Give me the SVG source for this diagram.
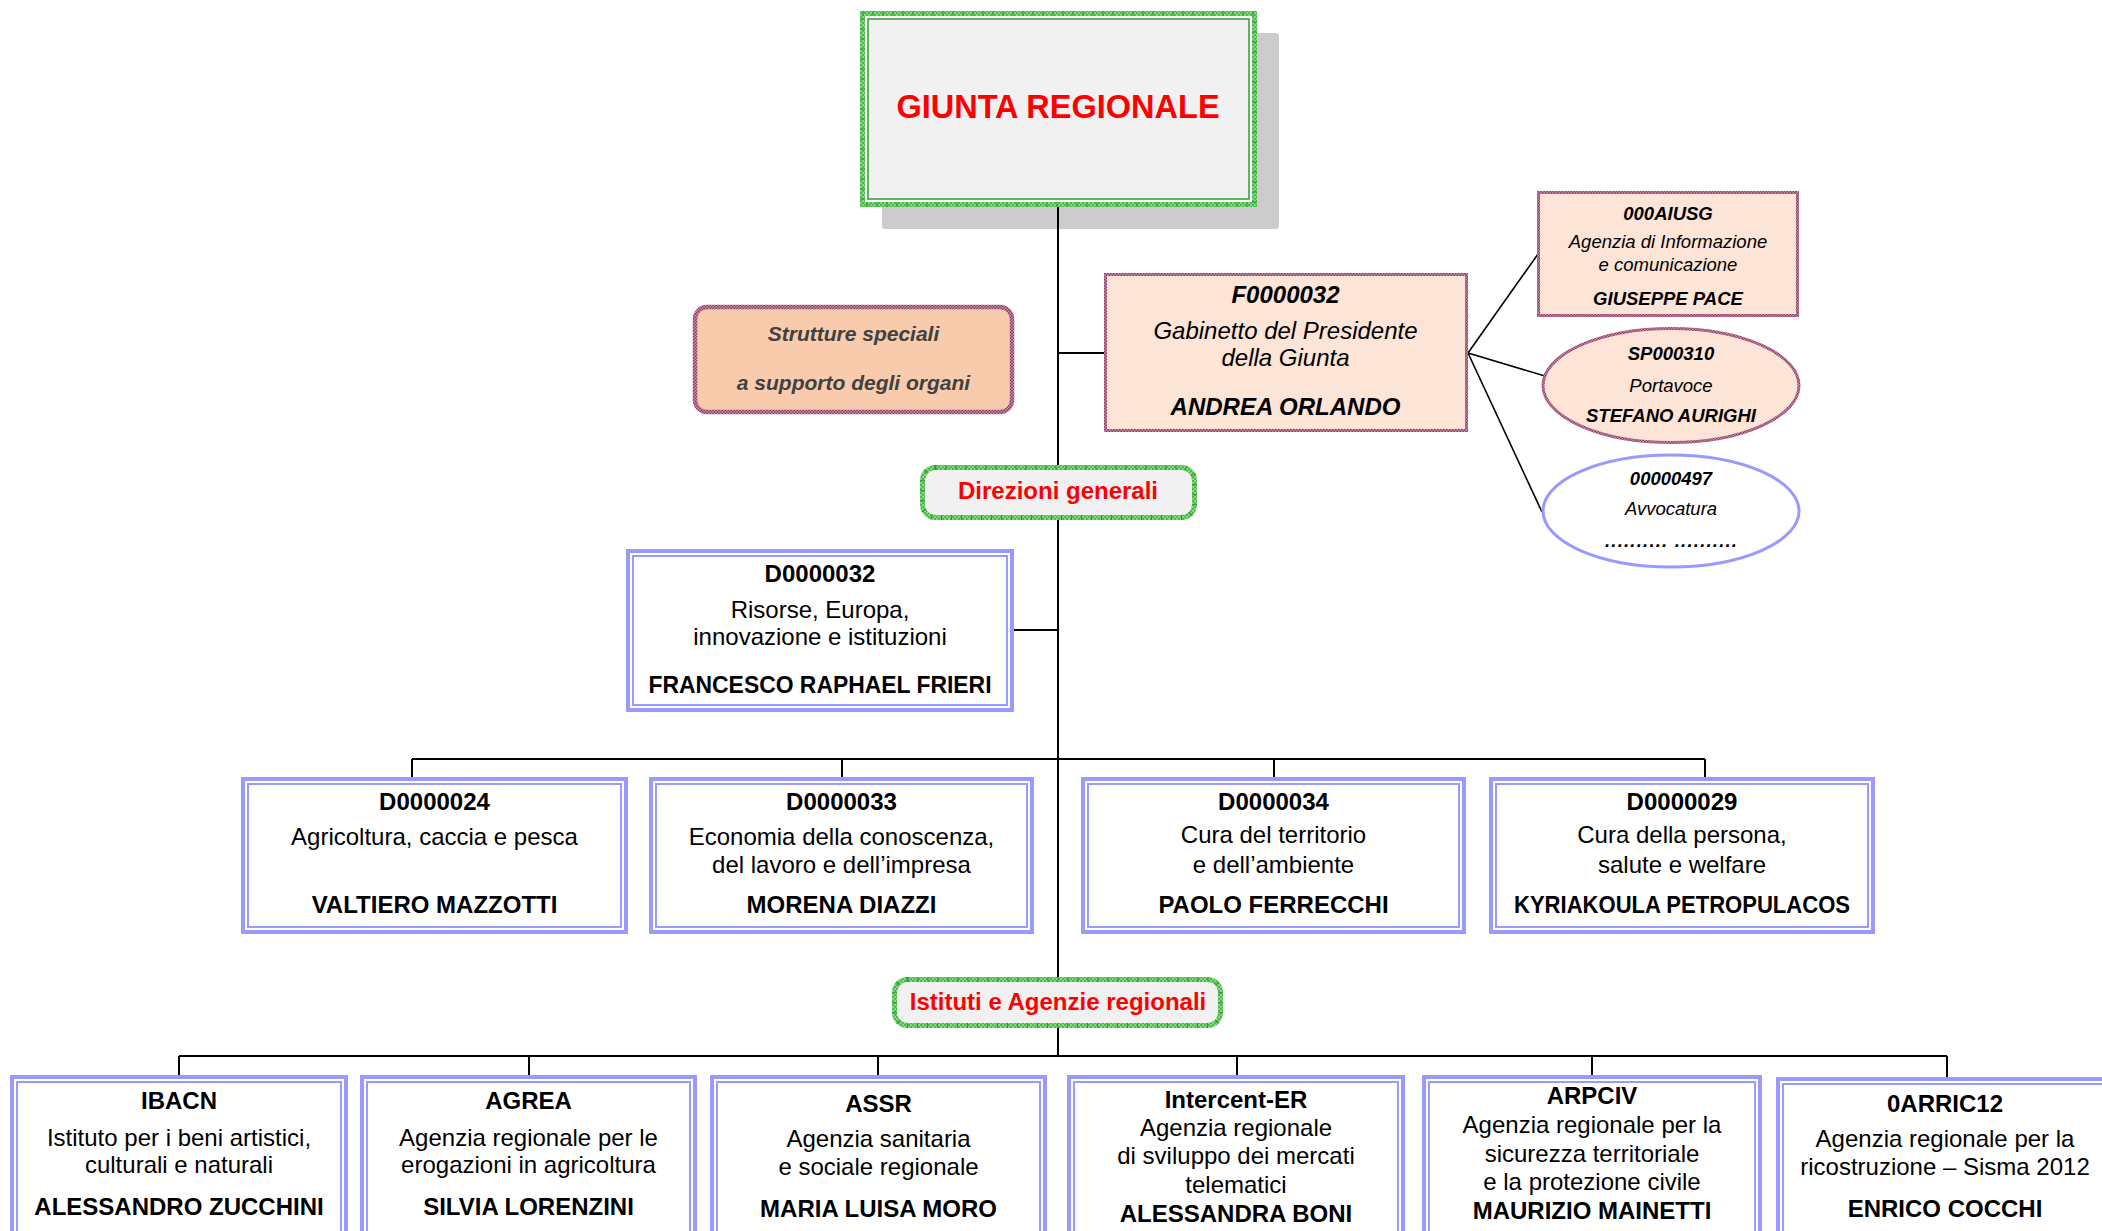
<svg xmlns="http://www.w3.org/2000/svg" width="2102" height="1231" viewBox="0 0 2102 1231">
<defs>
<pattern id="gp" width="4" height="4" patternUnits="userSpaceOnUse">
<rect width="4" height="4" fill="#86D686"/>
<rect width="2" height="2" fill="#4DB84D"/>
<rect x="2" y="2" width="2" height="2" fill="#4DB84D"/>
</pattern>
<pattern id="mp" width="3" height="3" patternUnits="userSpaceOnUse">
<rect width="3" height="3" fill="#C990AC"/>
<rect width="1.5" height="1.5" fill="#8E3A63"/>
<rect x="1.5" y="1.5" width="1.5" height="1.5" fill="#8E3A63"/>
</pattern>
</defs>
<style>
text { font-family: "Liberation Sans", Arial, sans-serif; font-size: 24px; fill: #000; text-anchor: middle; }
.b { font-weight: bold; }
.i { font-style: italic; }
.s { font-size: 18.5px; }
.red { fill: #FF0000; }
.gray { fill: #404040; font-size: 21px; }
.lo { fill: #FFFFFF; stroke: #9999FF; stroke-width: 4; }
.li { fill: none; stroke: #9999FF; stroke-width: 2; }
.gband { fill: none; stroke: url(#gp); }
.gtick { fill: none; stroke: #1E9A1E; stroke-dasharray: 1 9; }
.mband { stroke: url(#mp); }
.conn { fill: none; stroke: #000; stroke-width: 2; }
.fan { fill: none; stroke: #000; stroke-width: 1.6; }
</style>
<rect width="2102" height="1231" fill="#FFFFFF"/>

<g id="giunta-shadow">
<rect x="882" y="33" width="397" height="196" rx="3" fill="#CCCCCC"/>
</g>

<g id="connectors">
<path class="conn" d="M1058 207 V1056"/>
<path class="conn" d="M1058 353 H1104"/>
<path class="conn" d="M1014 630 H1058"/>
<path class="conn" d="M412 759 H1705 M412 759 V777 M842 759 V777 M1274 759 V777 M1705 759 V777"/>
<path class="conn" d="M179 1056 H1947 M179 1056 V1075 M529 1056 V1075 M878 1056 V1075 M1237 1056 V1075 M1592 1056 V1075 M1947 1056 V1077"/>
<path class="fan" d="M1468 353 L1538 254 M1468 353 L1545 376 M1468 353 L1542 512"/>
</g>

<g id="giunta">
<rect x="860" y="11" width="397" height="196" fill="#F1F1F1"/>
<rect class="gband" x="862.5" y="13.5" width="392" height="191" stroke-width="5"/>
<rect class="gtick" x="862.5" y="13.5" width="392" height="191" stroke-width="5"/>
<rect x="866" y="17" width="385" height="184" fill="none" stroke="#FFFFFF" stroke-width="2"/>
<rect x="868" y="19" width="381" height="180" fill="none" stroke="#2EA02E" stroke-width="1.5"/>
<text x="1058" y="118" class="b red" style="font-size:32.5px">GIUNTA REGIONALE</text>
</g>

<g id="strutture">
<rect x="695" y="307" width="317" height="105" rx="12" fill="#F8CBAD" class="mband" stroke-width="4.5"/>
<text x="853.5" y="341" class="b i gray">Strutture speciali</text>
<text x="853.5" y="390" class="b i gray">a supporto degli organi</text>
</g>

<g id="gabinetto">
<rect x="1105.5" y="274.5" width="361" height="156" fill="#FCE4D6" class="mband" stroke-width="3"/>
<text x="1285.5" y="303" class="b i">F0000032</text>
<text x="1285.5" y="339" class="i">Gabinetto del Presidente</text>
<text x="1285.5" y="366" class="i">della Giunta</text>
<text x="1285.5" y="415" class="b i">ANDREA ORLANDO</text>
</g>

<g id="aiusg">
<rect x="1538.5" y="192.5" width="259" height="123" fill="#FCE4D6" class="mband" stroke-width="3"/>
<text x="1668" y="220" class="b i s">000AIUSG</text>
<text x="1668" y="248" class="i s">Agenzia di Informazione</text>
<text x="1668" y="271" class="i s">e comunicazione</text>
<text x="1668" y="305" class="b i s">GIUSEPPE PACE</text>
</g>

<g id="portavoce">
<ellipse cx="1671" cy="385.5" rx="128" ry="57" fill="#FCE4D6" class="mband" stroke-width="3"/>
<text x="1671" y="360" class="b i s">SP000310</text>
<text x="1671" y="392" class="i s">Portavoce</text>
<text x="1671" y="422" class="b i s">STEFANO AURIGHI</text>
</g>

<g id="avvocatura">
<ellipse cx="1671" cy="511" rx="128" ry="56" fill="#FFFFFF" stroke="#9999FF" stroke-width="3"/>
<text x="1671" y="485" class="b i s">00000497</text>
<text x="1671" y="515" class="i s">Avvocatura</text>
<text x="1671" y="547" class="b i s" textLength="132" lengthAdjust="spacing">.......... ..........</text>
</g>

<g id="direzioni-generali">
<rect x="920" y="465" width="277" height="55" rx="15" fill="#F1F1F1"/>
<rect class="gband" x="922.5" y="467.5" width="272" height="50" rx="13" stroke-width="5"/>
<rect class="gtick" x="922.5" y="467.5" width="272" height="50" rx="13" stroke-width="5"/>
<text x="1058" y="499" class="b red">Direzioni generali</text>
</g>

<g id="D0000032">
<rect class="lo" x="628" y="551" width="384" height="159"/>
<rect class="li" x="633" y="556" width="374" height="149"/>
<text x="820" y="582" class="b">D0000032</text>
<text x="820" y="618">Risorse, Europa,</text>
<text x="820" y="645">innovazione e istituzioni</text>
<text x="820" y="693" class="b" textLength="343" lengthAdjust="spacingAndGlyphs">FRANCESCO RAPHAEL FRIERI</text>
</g>

<g id="D0000024">
<rect class="lo" x="243" y="779" width="383" height="153"/>
<rect class="li" x="248" y="784" width="373" height="143"/>
<text x="434.5" y="810" class="b">D0000024</text>
<text x="434.5" y="845">Agricoltura, caccia e pesca</text>
<text x="434.5" y="913" class="b">VALTIERO MAZZOTTI</text>
</g>

<g id="D0000033">
<rect class="lo" x="651" y="779" width="381" height="153"/>
<rect class="li" x="656" y="784" width="371" height="143"/>
<text x="841.5" y="810" class="b">D0000033</text>
<text x="841.5" y="845">Economia della conoscenza,</text>
<text x="841.5" y="873">del lavoro e dell’impresa</text>
<text x="841.5" y="913" class="b">MORENA DIAZZI</text>
</g>

<g id="D0000034">
<rect class="lo" x="1083" y="779" width="381" height="153"/>
<rect class="li" x="1088" y="784" width="371" height="143"/>
<text x="1273.5" y="810" class="b">D0000034</text>
<text x="1273.5" y="843">Cura del territorio</text>
<text x="1273.5" y="873">e dell’ambiente</text>
<text x="1273.5" y="913" class="b">PAOLO FERRECCHI</text>
</g>

<g id="D0000029">
<rect class="lo" x="1491" y="779" width="382" height="153"/>
<rect class="li" x="1496" y="784" width="372" height="143"/>
<text x="1682" y="810" class="b">D0000029</text>
<text x="1682" y="843">Cura della persona,</text>
<text x="1682" y="873">salute e welfare</text>
<text x="1682" y="913" class="b" textLength="336" lengthAdjust="spacingAndGlyphs">KYRIAKOULA PETROPULACOS</text>
</g>

<g id="istituti-agenzie">
<rect x="892" y="977" width="331" height="51" rx="15" fill="#F1F1F1"/>
<rect class="gband" x="894.5" y="979.5" width="326" height="46" rx="13" stroke-width="5"/>
<rect class="gtick" x="894.5" y="979.5" width="326" height="46" rx="13" stroke-width="5"/>
<text x="1058" y="1010" class="b red">Istituti e Agenzie regionali</text>
</g>

<g id="IBACN">
<rect class="lo" x="12" y="1077" width="334" height="180"/>
<rect class="li" x="17" y="1082" width="324" height="170"/>
<text x="179" y="1109" class="b">IBACN</text>
<text x="179" y="1146">Istituto per i beni artistici,</text>
<text x="179" y="1173">culturali e naturali</text>
<text x="179" y="1215" class="b">ALESSANDRO ZUCCHINI</text>
</g>

<g id="AGREA">
<rect class="lo" x="362" y="1077" width="333" height="180"/>
<rect class="li" x="367" y="1082" width="323" height="170"/>
<text x="528.5" y="1109" class="b">AGREA</text>
<text x="528.5" y="1146">Agenzia regionale per le</text>
<text x="528.5" y="1173">erogazioni in agricoltura</text>
<text x="528.5" y="1215" class="b">SILVIA LORENZINI</text>
</g>

<g id="ASSR">
<rect class="lo" x="712" y="1077" width="333" height="180"/>
<rect class="li" x="717" y="1082" width="323" height="170"/>
<text x="878.5" y="1112" class="b">ASSR</text>
<text x="878.5" y="1147">Agenzia sanitaria</text>
<text x="878.5" y="1175">e sociale regionale</text>
<text x="878.5" y="1217" class="b">MARIA LUISA MORO</text>
</g>

<g id="Intercent-ER">
<rect class="lo" x="1069" y="1077" width="334" height="180"/>
<rect class="li" x="1074" y="1082" width="324" height="170"/>
<text x="1236" y="1108" class="b">Intercent-ER</text>
<text x="1236" y="1136">Agenzia regionale</text>
<text x="1236" y="1164">di sviluppo dei mercati</text>
<text x="1236" y="1193">telematici</text>
<text x="1236" y="1222" class="b">ALESSANDRA BONI</text>
</g>

<g id="ARPCIV">
<rect class="lo" x="1424" y="1077" width="336" height="180"/>
<rect class="li" x="1429" y="1082" width="326" height="170"/>
<text x="1592" y="1104" class="b">ARPCIV</text>
<text x="1592" y="1133">Agenzia regionale per la</text>
<text x="1592" y="1162">sicurezza territoriale</text>
<text x="1592" y="1190">e la protezione civile</text>
<text x="1592" y="1219" class="b">MAURIZIO MAINETTI</text>
</g>

<g id="0ARRIC12">
<rect class="lo" x="1778" y="1079" width="334" height="180"/>
<rect class="li" x="1783" y="1084" width="324" height="170"/>
<text x="1945" y="1112" class="b">0ARRIC12</text>
<text x="1945" y="1147">Agenzia regionale per la</text>
<text x="1945" y="1175">ricostruzione – Sisma 2012</text>
<text x="1945" y="1217" class="b">ENRICO COCCHI</text>
</g>
</svg>
